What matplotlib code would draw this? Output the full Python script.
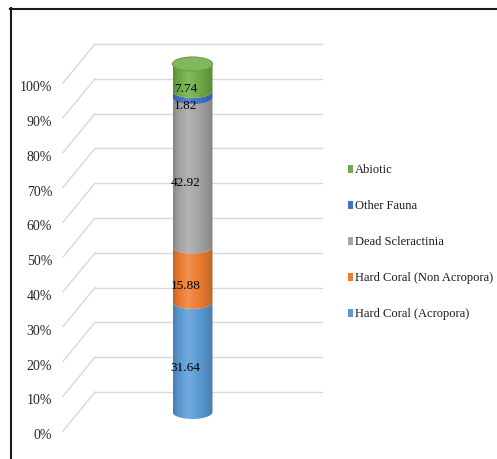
import numpy as np
import matplotlib
matplotlib.use("Agg")
import matplotlib.pyplot as plt
from matplotlib.patches import Polygon, Ellipse, Rectangle
from matplotlib.lines import Line2D
from matplotlib.colors import to_rgb

# ---- data ----
series = ["Hard Coral (Acropora)", "Hard Coral (Non Acropora)",
          "Dead Scleractinia", "Other Fauna", "Abiotic"]
values = [31.64, 15.88, 42.92, 1.82, 7.74]
colors = ["#5B9BD5", "#ED7D31", "#A5A5A5", "#4472C4", "#70AD47"]
ticks = list(range(0, 101, 10))
tick_labels = [f"{t}%" for t in ticks]

plt.rcParams["font.family"] = ["Liberation Serif", "DejaVu Serif"]

W, H = 497, 460
fig = plt.figure(figsize=(W / 100, H / 100), dpi=100)
fig.patch.set_facecolor("white")

# axes spanning the whole figure; x in pixels, y in percent of the stack
px_per_pct = 3.48
y_zero_px = 413
ax = fig.add_axes([0, 0, 1, 1])
ax.set_xlim(0, W)
ax.set_ylim((y_zero_px - H) / px_per_pct, y_zero_px / px_per_pct)
ax.axis("off")

# depth offsets of the pseudo-3D floor/back wall (percent units)
back_off = 20 / px_per_pct
front_off = -19 / px_per_pct
wall_x0, wall_x1, front_x = 95, 322, 63
grid_c = "#D9D9D9"
for t in ticks:
    ax.plot([wall_x0, wall_x1], [t + back_off] * 2, color=grid_c, lw=1.0, zorder=1)
    ax.plot([front_x, wall_x0], [t + front_off, t + back_off], color=grid_c, lw=1.0, zorder=1)
for t, lab in zip(ticks, tick_labels):
    ax.text(52, t - 6.5, lab, ha="right", va="center", fontsize=10, color="#262626")

# ---- cylinder stack ----
xc, a = 192.5, 20.0
b = 7 / px_per_pct
xs = np.linspace(xc - a, xc + a, 120)
ell = np.sqrt(np.clip(1 - ((xs - xc) / a) ** 2, 0, 1))

tt = np.linspace(0, 1, 200)
shade = np.interp(tt, [0, 0.12, 0.38, 0.7, 0.92, 1.0], [0.80, 0.95, 1.10, 0.97, 0.85, 0.80])


def shaded(c):
    rgb = np.array(to_rgb(c))
    out = np.empty((1, tt.size, 3))
    for i, f in enumerate(shade):
        if f >= 1:
            out[0, i] = rgb + (1 - rgb) * (f - 1) * 1.6
        else:
            out[0, i] = rgb * f
    return np.clip(out, 0, 1)


bottoms = np.concatenate([[0], np.cumsum(values)[:-1]])
for v, y0, c in zip(values, bottoms, colors):
    y1 = y0 + v
    lo = y0 - b * ell
    hi = y1 - b * ell
    poly = Polygon(np.column_stack([np.r_[xs, xs[::-1]], np.r_[lo, hi[::-1]]]),
                   closed=True, facecolor="none", edgecolor="none",
                   transform=ax.transData)
    ax.add_patch(poly)
    im = ax.imshow(shaded(c), extent=[xc - a, xc + a, y0 - b - 0.5, y1 + 0.5],
                   aspect="auto", zorder=3, interpolation="bilinear")
    im.set_clip_path(poly)
    ax.text(xc - 7, y0 + v / 2 - 3, f"{v:.2f}", ha="center", va="center",
            fontsize=9.5, color="black", zorder=5)

top = sum(values)
top_rgb = np.array(to_rgb(colors[-1]))
ax.add_patch(Ellipse((xc, top), 2 * a, 2 * b, facecolor=top_rgb + (1 - top_rgb) * 0.12,
                     edgecolor=top_rgb * 0.92, lw=0.8, zorder=4))
ax.set_xlim(0, W)
ax.set_ylim((y_zero_px - H) / px_per_pct, y_zero_px / px_per_pct)

# ---- legend (top entry is the top of the stack) ----
leg_y = [170, 206, 242, 278, 314]
for name, c, py in zip(series[::-1], colors[::-1], leg_y):
    fy = 1 - py / H
    fig.add_artist(Rectangle((348 / W, fy - 4 / H), 5 / W, 8 / H,
                             transform=fig.transFigure, facecolor=c, edgecolor="none"))
    fig.text(355 / W, fy, name, ha="left", va="center", fontsize=9, color="#1a1a1a")

# ---- outer frame ----
fig.add_artist(Line2D([10.5 / W, 10.5 / W], [0, 1 - 9 / H], transform=fig.transFigure,
                      color="#1a1a1a", lw=1.5))
fig.add_artist(Line2D([10 / W, 1], [1 - 9.5 / H, 1 - 9.5 / H], transform=fig.transFigure,
                      color="#1a1a1a", lw=1.5))

fig.savefig("out.png", dpi=100, facecolor="white")
